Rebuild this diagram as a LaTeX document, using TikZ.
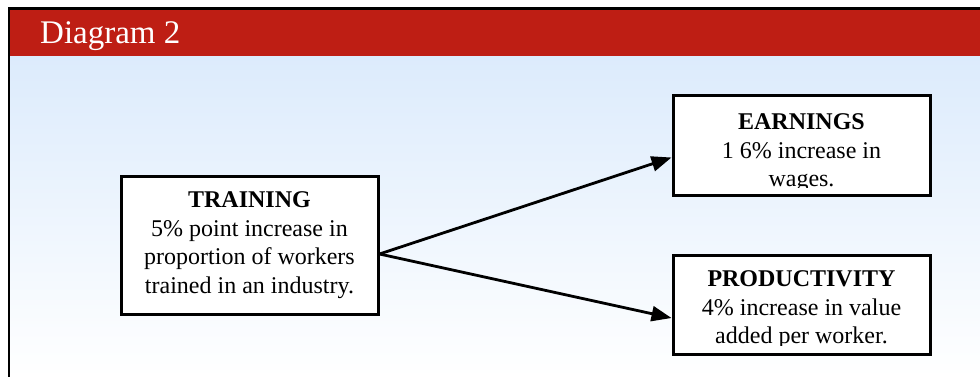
\documentclass[tikz,border=0pt]{standalone}
\usepackage{fontspec}
\setmainfont{Liberation Serif}
\usetikzlibrary{arrows.meta}
\definecolor{bannerred}{RGB}{190,30,20}
\definecolor{skyblue}{RGB}{220,235,252}
\tikzset{
  panelbox/.style={draw=black, line width=3pt, fill=white, minimum width=257pt, inner sep=0pt},
  % the base anchor of a multi-line node is the baseline of its last line
  boxtext/.style={anchor=base, align=center, inner sep=0pt, font=\fontsize{24}{28.5}\selectfont},
  link/.style={line width=2.8pt, -{Triangle[length=20pt,width=15pt]}},
}
\begin{document}
\begin{tikzpicture}[x=1pt,y=-1pt]
\useasboundingbox (0,0) rectangle (980,377);
\fill[white] (0,0) rectangle (980,377);
% panel background and banner
\shade[top color=skyblue, bottom color=white] (10,56) rectangle (980,377);
\fill[bannerred] (10,10) rectangle (980,56);
\draw[line width=2.5pt] (9,377) -- (9,8.75) -- (980,8.75);
\node[anchor=base west, inner sep=0pt, text=white, font=\fontsize{33}{33}\selectfont] (title) at (40,44) {Diagram 2};

% boxes
\node[panelbox, minimum height=138pt] (train) at (249.5,245) {};
\node[panelbox, minimum height=99pt] (earn) at (801.5,145.5) {};
\node[panelbox, minimum height=99pt] (prod) at (801.5,304.5) {};

% box texts, cut off at the lower inner edge of each box
\begin{scope}
  \clip (train.north west) rectangle ([yshift=9pt]train.south east);
  \node[boxtext] (traintxt) at ([yshift=-118.5pt]train.north)
    {\textbf{TRAINING}\\5\% point increase in\\proportion of workers\\trained in an industry.};
\end{scope}
\begin{scope}
  \clip (earn.north west) rectangle ([yshift=9pt]earn.south east);
  \node[boxtext] (earntxt) at ([yshift=-92pt]earn.north)
    {\textbf{EARNINGS}\\1 6\% increase in\\wages.};
\end{scope}
\begin{scope}
  \clip (prod.north west) rectangle ([yshift=10pt]prod.south east);
  \node[boxtext] (prodtxt) at ([yshift=-90pt]prod.north)
    {\textbf{PRODUCTIVITY}\\4\% increase in value\\added per worker.};
\end{scope}

% connectors
\draw[link] ([yshift=-9pt]train.east) -- ([yshift=-12pt]earn.west);
\draw[link] ([yshift=-9pt]train.east) -- ([yshift=-13.5pt]prod.west);
\end{tikzpicture}
\end{document}
